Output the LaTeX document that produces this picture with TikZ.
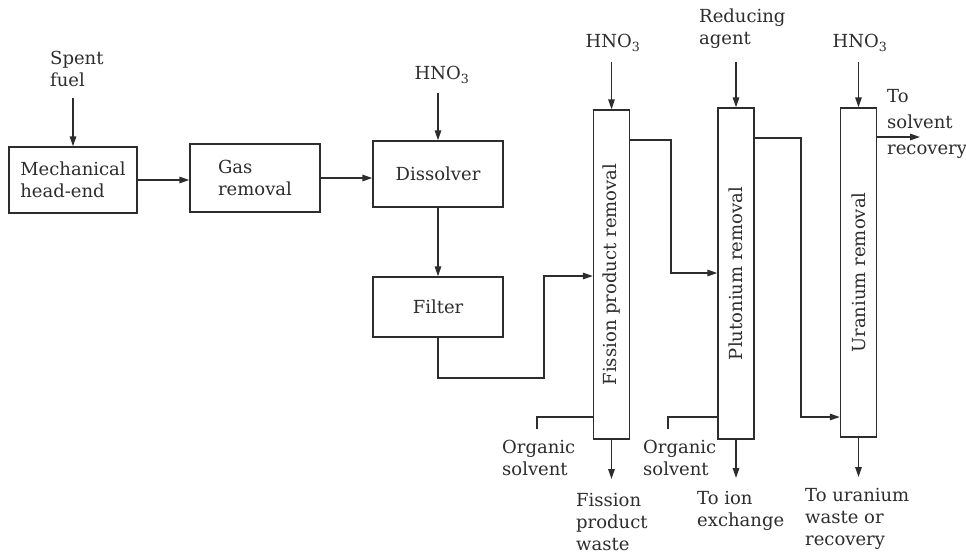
\documentclass[tikz,border=0pt]{standalone}
\usepackage{fontspec}
\setmainfont{DejaVu Serif}
\usetikzlibrary{arrows.meta,calc}
\definecolor{ink}{RGB}{45,45,45}
\begin{document}
\begin{tikzpicture}[x=1pt,y=-1pt,
  font=\fontsize{18}{22}\selectfont,
  box/.style={draw=ink, line width=1.4pt, minimum width=130pt, minimum height=66pt, align=left, inner sep=0pt, text=ink},
  col/.style={draw=ink, line width=1.4pt, minimum width=36pt, inner sep=0pt},
  lbl/.style={text=ink, align=left, inner sep=2pt},
  collbl/.style={rotate=90, text=ink, inner sep=0pt},
  arr/.style={draw=ink, line width=1.4pt, -{Triangle[length=10pt,width=6.5pt]}},
  ln/.style={draw=ink, line width=1.4pt}]
\fill[white] (0,0) rectangle (966,558);
\useasboundingbox (0,0) rectangle (966,558);

% boxes
\node[box, minimum width=128pt] (mech) at (73,180) {Mechanical\\head-end};
\node[box, minimum height=68pt] (gas) at (255,178) {Gas\\removal};
\node[box] (diss) at (438,174) {Dissolver};
\node[box, minimum height=60pt] (filter) at (438,307) {Filter};

% columns
\node[col, minimum height=329pt, label={[collbl]center:Fission product removal}] (col1) at (611.5,274.5) {};
\node[col, minimum height=331pt, label={[collbl]center:Plutonium removal}] (col2) at (736,273.5) {};
\node[col, minimum height=329pt, label={[collbl]center:Uranium removal}] (col3) at (858.5,272.5) {};

% labels
\node[lbl, anchor=west] (spent) at (48,69) {Spent\\fuel};
\node[lbl] (hno1) at (442,75) {HNO\textsubscript{3}};
\node[lbl] (hno2) at (613,43) {HNO\textsubscript{3}};
\node[lbl, anchor=west] (red) at (697,29) {Reducing\\agent};
\node[lbl] (hno3) at (860,43) {HNO\textsubscript{3}};
\node[lbl, anchor=west, font=\fontsize{18}{26}\selectfont] (tsr) at (885,124) {To\\solvent\\recovery};
\node[lbl, anchor=west] (os1t) at (500,458) {Organic\\solvent};
\node[lbl, anchor=west] (os2t) at (641,458) {Organic\\solvent};
\node[lbl, anchor=west] (fpw) at (574,522) {Fission\\product\\waste};
\node[lbl, anchor=west] (toion) at (695,511) {To ion\\exchange};
\node[lbl, anchor=west] (tou) at (803,519) {To uranium\\waste or\\recovery};

% coordinates
\coordinate (sp) at (71,98);
\coordinate (h1) at (438,93);
\coordinate (h2) at (611.5,62);
\coordinate (rd) at (736,62);
\coordinate (h3) at (858.5,62);
\coordinate (fa) at (544,378);
\coordinate (fb) at (544,276);
\coordinate (pa) at (671,140);
\coordinate (pb) at (671,273);
\coordinate (ua) at (801,138);
\coordinate (ub) at (801,417);
\coordinate (sr) at (920,137);
\coordinate (o1a) at (537,429);
\coordinate (o1b) at (537,417);
\coordinate (o2a) at (668,429);
\coordinate (o2b) at (668,417);
\coordinate (e1) at (611.5,479);
\coordinate (e2) at (736,478);
\coordinate (e3) at (858.5,477);

% connectors
\draw[arr] (sp -| mech.north) -- (mech.north);
\draw[arr] (mech.east) -- (mech.east -| gas.west);
\draw[arr] (gas.east) -- (gas.east -| diss.west);
\draw[arr] (h1) -- (diss.north);
\draw[arr] (diss) -- (filter);
\draw[arr] (filter.south) |- (fa) -- (fb) -- (fb -| col1.west);
\draw[arr] (h2) -- (col1.north);
\draw[arr] (rd) -- (col2.north);
\draw[arr] (h3) -- (col3.north);
\draw[arr] (pa -| col1.east) -- (pa) -- (pb) -- (pb -| col2.west);
\draw[arr] (ua -| col2.east) -- (ua) -- (ub) -- (ub -| col3.west);
\draw[arr] (sr -| col3.east) -- (sr);
\draw[ln] (o1a) -- (o1b) -- (o1b -| col1.west);
\draw[ln] (o2a) -- (o2b) -- (o2b -| col2.west);
\draw[arr] (col1.south) -- (e1);
\draw[arr] (col2.south) -- (e2);
\draw[arr] (col3.south) -- (e3);
\end{tikzpicture}
\end{document}
